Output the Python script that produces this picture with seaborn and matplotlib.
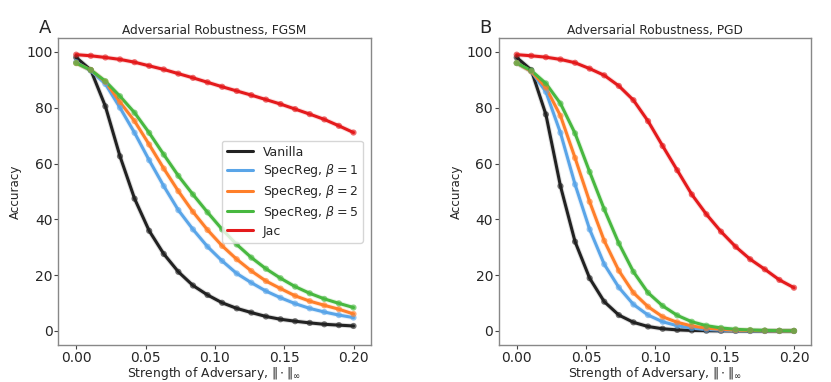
import matplotlib.pyplot as plt
import seaborn as sns
import pandas as pd
import numpy as np

# Força do adversário (20 pontos de 0 a 0.2)
eps = np.linspace(0, 0.2, 20)

modelos = ['Vanilla', r'SpecReg, $\beta=1$', r'SpecReg, $\beta=2$', r'SpecReg, $\beta=5$', 'Jac']
cores = ['#222222', '#5aa5e8', '#ff7f2a', '#48b840', '#e41a1c']

# FGSM
fgsm_vanilla = [98, 93.5, 80.5, 62.6, 47.4, 35.9, 27.6, 21.2, 16.3, 12.9, 10.1, 8.1, 6.6, 5.2, 4.2, 3.5, 2.9, 2.4, 2.1, 1.8]
fgsm_b1 = [96.3, 93.3, 88.5, 80, 71, 61.2, 51.9, 43.3, 36.4, 30.2, 25.1, 20.6, 17.3, 14.3, 11.9, 9.8, 8.1, 6.8, 5.7, 4.8]
fgsm_b2 = [96, 93.5, 89.3, 82, 75.2, 66.8, 58.2, 50.1, 42.7, 36.2, 30.5, 25.7, 21.5, 17.9, 15.2, 12.6, 10.7, 9.2, 7.8, 6.1]
fgsm_b5 = [96, 93.5, 89.5, 84.1, 78.2, 71, 63.2, 55.6, 48.9, 42.5, 36.4, 31, 26.3, 22.3, 18.9, 15.9, 13.5, 11.5, 9.9, 8.4]
fgsm_jac = [99, 98.6, 98, 97.3, 96.3, 95, 93.7, 92.2, 90.7, 89.1, 87.5, 86, 84.5, 82.9, 81.3, 79.5, 77.7, 75.8, 73.5, 71.1]

# PGD
pgd_vanilla = [98, 93.5, 77.6, 51.9, 32, 18.9, 10.5, 5.7, 3.1, 1.6, 0.8, 0.4, 0.2, 0.1, 0.05, 0.02, 0, 0, 0, 0]
pgd_b1 = [96, 93, 85.7, 71, 52.5, 36.4, 23.9, 15.6, 9.5, 5.7, 3.3, 1.9, 1.0, 0.5, 0.3, 0.15, 0.08, 0.04, 0.02, 0.01]
pgd_b2 = [96, 93, 87.2, 77.1, 62, 46.3, 32.3, 21.6, 13.7, 8.7, 5.1, 3.1, 1.8, 1.0, 0.6, 0.3, 0.2, 0.1, 0.05, 0.03]
pgd_b5 = [96, 93.3, 88.7, 81.5, 70.8, 57, 43.6, 31.4, 21.2, 13.7, 9.0, 5.6, 3.3, 1.9, 1.1, 0.6, 0.35, 0.2, 0.1, 0.05]
pgd_jac = [99, 98.6, 98.1, 97.3, 96.1, 94, 91.6, 87.8, 82.7, 75.2, 66.3, 57.6, 48.9, 41.8, 35.6, 30.2, 25.7, 22.1, 18.3, 15.5]


def monta(series):
    linhas = []
    for nome, vals in zip(modelos, series):
        for e, v in zip(eps, vals):
            linhas.append({'eps': e, 'acc': v, 'modelo': nome})
    return pd.DataFrame(linhas)


df_fgsm = monta([fgsm_vanilla, fgsm_b1, fgsm_b2, fgsm_b5, fgsm_jac])
df_pgd = monta([pgd_vanilla, pgd_b1, pgd_b2, pgd_b5, pgd_jac])

sns.set_style('ticks')
plt.rcParams['axes.edgecolor'] = '#888888'
plt.rcParams['font.family'] = ['DejaVu Sans']

fig, axes = plt.subplots(1, 2, figsize=(8.31, 3.82), dpi=100)
fig.subplots_adjust(left=0.07, right=0.976, top=0.9, bottom=0.097, wspace=0.41)

paleta = dict(zip(modelos, cores))

for ax, df, titulo, letra in zip(axes, [df_fgsm, df_pgd],
                                 ['Adversarial Robustness, FGSM', 'Adversarial Robustness, PGD'],
                                 ['A', 'B']):
    # banda clara por baixo
    sns.lineplot(data=df, x='eps', y='acc', hue='modelo', palette=paleta, ax=ax,
                 linewidth=3.6, alpha=0.15, legend=False)
    sns.lineplot(data=df, x='eps', y='acc', hue='modelo', palette=paleta, ax=ax,
                 linewidth=2.2, legend=(letra == 'A'))
    sns.scatterplot(data=df, x='eps', y='acc', hue='modelo', palette=paleta, ax=ax,
                    s=20, alpha=0.6, edgecolor='none', legend=False, zorder=3)
    ax.set_xlim(-0.013, 0.2123)
    ax.set_ylim(-5, 104.9)
    ax.set_xticks([0, 0.05, 0.1, 0.15, 0.2])
    ax.set_xticklabels(['0.00', '0.05', '0.10', '0.15', '0.20'])
    ax.set_yticks([0, 20, 40, 60, 80, 100])
    ax.tick_params(labelsize=10, length=3, pad=1, color='#444444')
    ax.set_xlabel(r'Strength of Adversary, $\|\cdot\|_\infty$', fontsize=8.9, labelpad=0)
    ax.set_ylabel('Accuracy', fontsize=8.6, labelpad=3)
    ax.set_title(titulo, fontsize=8.7, pad=3)
    ax.text(-0.061, 1.016, letra, transform=ax.transAxes, fontsize=13, va='baseline', ha='left')
    for s in ax.spines.values():
        s.set_linewidth(1.0)

leg = axes[0].legend(loc='center right', bbox_to_anchor=(0.995, 0.5), fontsize=9,
                     frameon=True, handlelength=2.1, borderpad=0.4, labelspacing=0.3,
                     handletextpad=0.8)
for h in leg.get_lines():
    h.set_linewidth(2.2)

plt.savefig('out.png', dpi=100)
